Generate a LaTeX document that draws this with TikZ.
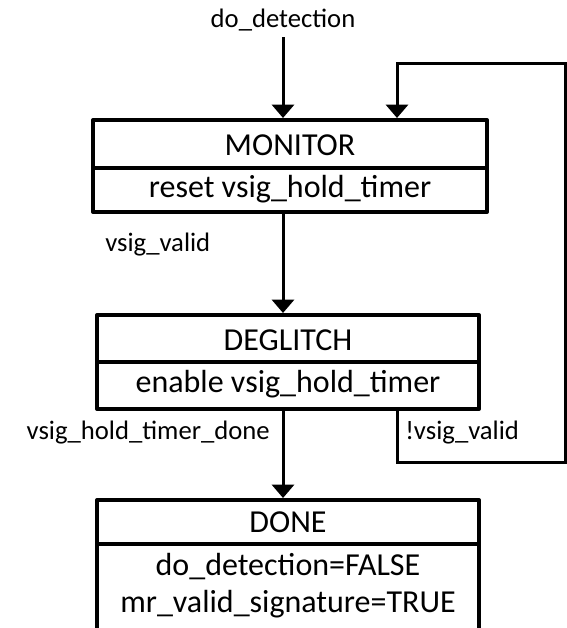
\documentclass[tikz,border=0pt]{standalone}
\usepackage{fontspec}
\setmainfont{Carlito}
\usetikzlibrary{arrows.meta}
\begin{document}
\begin{tikzpicture}[x=0.75pt,y=-0.75pt,
  statebox/.style={draw, line width=3pt, line join=round, inner sep=0pt},
  divline/.style={line width=3pt},
  wire/.style={line width=2.25pt, line join=miter},
  flow/.style={wire, -{Triangle[width=16.5pt,length=10pt]}},
  statename/.style={font=\fontsize{24}{28}\selectfont, inner sep=0pt},
  action/.style={font=\fontsize{24}{28}\selectfont, inner sep=0pt},
  cond/.style={font=\fontsize{20}{24}\selectfont, inner sep=0pt}]
\useasboundingbox (0,0) rectangle (567,628);

% state boxes
\node[statebox, minimum width=295.5pt, minimum height=69pt] (monitor) at (290,166) {};
\node[statebox, minimum width=286.5pt, minimum height=70.5pt] (deglitch) at (288,362) {};
\node[statebox, minimum width=286.5pt, minimum height=97.5pt] (done) at (288,565) {};

% dividers between state name and actions
\coordinate (monitor-div) at (0,168);
\coordinate (deglitch-div) at (0,362);
\coordinate (done-div) at (0,544);
\draw[divline] (monitor.west |- monitor-div) -- (monitor.east |- monitor-div);
\draw[divline] (deglitch.west |- deglitch-div) -- (deglitch.east |- deglitch-div);
\draw[divline] (done.west |- done-div) -- (done.east |- done-div);

% state texts
\node[statename] (monitor-name) at (290,145) {MONITOR};
\node[action] (monitor-act) at (290,189) {reset vsig\_hold\_timer};
\node[statename] (deglitch-name) at (288,340) {DEGLITCH};
\node[action] (deglitch-act) at (288,384) {enable vsig\_hold\_timer};
\node[statename] (done-name) at (288,522) {DONE};
\node[action] (done-act1) at (288,567) {do\_detection=FALSE};
\node[action] (done-act2) at (288,604) {mr\_valid\_signature=TRUE};

% transitions
\node[cond] (start-label) at (283,20) {do\_detection};
\coordinate (entry) at (283,37);
\draw[flow] (entry) -- (entry |- monitor.north);
\draw[flow] (monitor.south -| entry) -- (entry |- deglitch.north);
\draw[flow] (deglitch.south -| entry) -- (entry |- done.north);

\coordinate (ret-x) at (397,0);
\coordinate (ret-low) at (565,462);
\coordinate (ret-high) at (565,63);
\draw[flow] (deglitch.south -| ret-x) |- (ret-low) -- (ret-high) -| (ret-x |- monitor.north);

% transition conditions
\node[cond, anchor=west] (valid-label) at (105,245) {vsig\_valid};
\node[cond, anchor=east] (hold-label) at (270,433) {vsig\_hold\_timer\_done};
\node[cond, anchor=west] (invalid-label) at (405,433) {!vsig\_valid};
\end{tikzpicture}
\end{document}
